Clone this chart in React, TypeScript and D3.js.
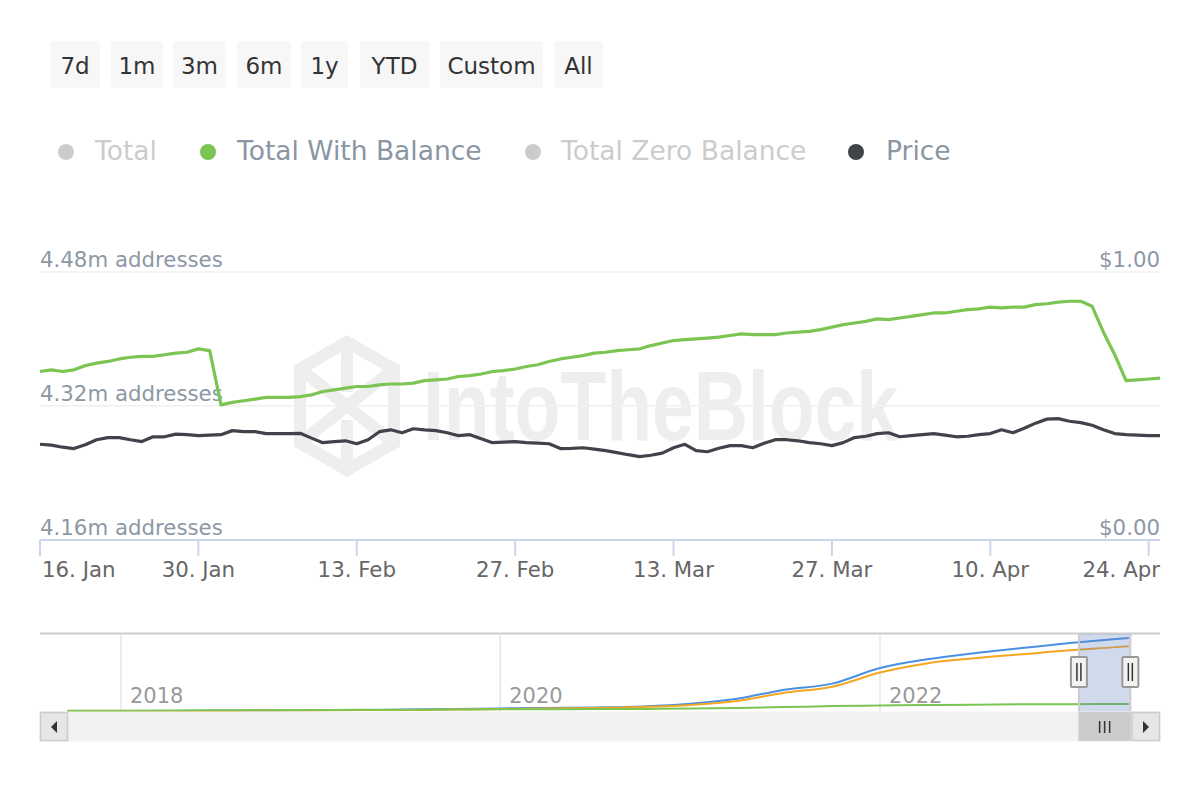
import React from "react";
import * as d3 from "d3";

// daily points, 16 Jan 2023 .. 25 Apr 2023
const START = "2023-01-16";

// Total With Balance, thousands of addresses
const withBalanceK = [
  4361, 4363, 4361, 4363, 4368, 4371, 4373, 4376, 4378, 4379,
  4379, 4381, 4383, 4384, 4388, 4386, 4321, 4324, 4326, 4328,
  4330, 4330, 4330, 4331, 4333, 4337, 4339, 4341, 4343, 4343,
  4345, 4346, 4346, 4347, 4350, 4351, 4352, 4355, 4356, 4358,
  4361, 4362, 4364, 4367, 4369, 4373, 4376, 4378, 4380, 4383,
  4384, 4386, 4387, 4388, 4392, 4395, 4398, 4399, 4400, 4401,
  4402, 4404, 4406, 4405, 4405, 4405, 4407, 4408, 4409, 4411,
  4414, 4417, 4419, 4421, 4424, 4423, 4425, 4427, 4429, 4431,
  4431, 4433, 4435, 4436, 4438, 4437, 4438, 4438, 4441, 4442,
  4444, 4445, 4445, 4439, 4408, 4381, 4350, 4351, 4352, 4353,
];

// Price, USD
const price = [
  0.356, 0.353, 0.345, 0.34, 0.354, 0.373, 0.381, 0.381, 0.373, 0.366,
  0.384, 0.384, 0.394, 0.392, 0.388, 0.39, 0.392, 0.407, 0.403, 0.403,
  0.396, 0.396, 0.396, 0.397, 0.379, 0.362, 0.366, 0.369, 0.358, 0.373,
  0.403, 0.41, 0.399, 0.414, 0.41, 0.407, 0.399, 0.388, 0.392, 0.377,
  0.362, 0.364, 0.366, 0.362, 0.36, 0.358, 0.34, 0.341, 0.343, 0.338,
  0.332, 0.325, 0.317, 0.31, 0.315, 0.323, 0.343, 0.356, 0.332, 0.328,
  0.341, 0.351, 0.351, 0.343, 0.36, 0.373, 0.373, 0.369, 0.362, 0.358,
  0.351, 0.362, 0.381, 0.386, 0.396, 0.399, 0.384, 0.388, 0.392, 0.396,
  0.39, 0.384, 0.386, 0.392, 0.396, 0.41, 0.399, 0.416, 0.435, 0.45,
  0.452, 0.442, 0.437, 0.427, 0.41, 0.396, 0.392, 0.39, 0.388, 0.388,
];

const leftTicksK = [4160, 4320, 4480];
const rightTicks = [0, 1];
const xTickDates = [
  "2023-01-16", "2023-01-30", "2023-02-13", "2023-02-27",
  "2023-03-13", "2023-03-27", "2023-04-10", "2023-04-24",
];

// navigator (full history), millions of addresses
const navDates = [
  "2017-09-20", "2018-01-01", "2018-04-01", "2018-07-01", "2018-10-01",
  "2019-01-01", "2019-04-01", "2019-07-01", "2019-10-01", "2020-01-01",
  "2020-04-01", "2020-07-01", "2020-10-01", "2021-01-01", "2021-04-01",
  "2021-07-01", "2021-10-01", "2022-01-01", "2022-04-01", "2022-07-01",
  "2022-10-01", "2023-01-01", "2023-04-01", "2023-04-25",
];
const navTotal = [0, 0, 0, 0.3, 0.3, 0.6, 0.6, 0.9, 1.2, 1.6, 1.9, 2.2, 2.8, 4.4, 7.5, 13.1, 16.8, 26.4, 31.7, 35.5, 38.6, 41.7, 44.2, 44.8];
const navZero = [0, 0, 0, 0, 0.3, 0.3, 0.6, 0.6, 0.9, 1.2, 1.6, 1.9, 2.5, 3.7, 6.2, 11.2, 14.9, 23.6, 29.2, 32.3, 34.8, 37.3, 39.2, 39.8];
const navWithBal = [0.1, 0.2, 0.3, 0.4, 0.5, 0.6, 0.7, 0.8, 0.9, 1.0, 1.1, 1.2, 1.3, 1.5, 1.9, 2.4, 3.0, 3.4, 3.7, 3.9, 4.1, 4.2, 4.3, 4.37];
const navYears = ["2018", "2020", "2022"];

const buttons = ["7d", "1m", "3m", "6m", "1y", "YTD", "Custom", "All"];
const buttonX = [[50, 100], [111, 163], [173, 226], [237, 291], [301, 348], [360, 429], [440, 543], [554, 603]];

const legendItems = [
  { name: "Total", color: "#cccccc", text: "#cccccc", cx: 66, tx: 95 },
  { name: "Total With Balance", color: "#7cc553", text: "#8a96a3", cx: 208, tx: 237 },
  { name: "Total Zero Balance", color: "#cccccc", text: "#cccccc", cx: 533, tx: 561 },
  { name: "Price", color: "#40444a", text: "#8a96a3", cx: 856, tx: 886 },
];

const FONT = "'DejaVu Sans', sans-serif";
const parse = d3.timeParse("%Y-%m-%d");
const fmtTick = d3.timeFormat("%d. %b");

export default function App() {
  const start = parse(START) as Date;
  const dates = withBalanceK.map((_, i) => d3.timeDay.offset(start, i));
  const end = dates[dates.length - 1];

  const x = d3.scaleTime().domain([start, end]).range([40, 1160]);
  const yL = d3.scaleLinear().domain([4160, 4480]).range([539.5, 272]);
  const yR = d3.scaleLinear().domain([0, 1]).range([539.5, 272]);

  const greenLine = d3.line<number>().x((_, i) => x(dates[i])).y((d) => yL(d));
  const priceLine = d3.line<number>().x((_, i) => x(dates[i])).y((d) => yR(d));

  const nd = navDates.map((s) => parse(s) as Date);
  const xN = d3.scaleTime().domain([new Date(2018, 0, 1), new Date(2022, 0, 1)]).range([121, 880]);
  const yN = d3.scaleLinear().domain([0, 44.8]).range([711, 638]);
  const navLine = d3.line<number>().x((_, i) => xN(nd[i])).y((d) => yN(d)).curve(d3.curveMonotoneX);

  const m0 = xN(start) + 1.5;
  const m1 = xN(end) + 1.5;
  const ticks = xTickDates.map((s) => parse(s) as Date);

  return (
    <svg width={1200} height={800} style={{ position: "absolute", left: 0, top: 0, background: "#fff" }} fontFamily={FONT}>
      {/* range selector */}
      {buttons.map((b, i) => (
        <g key={b}>
          <rect x={buttonX[i][0]} y={41} width={buttonX[i][1] - buttonX[i][0]} height={47} rx={3} fill="#f7f7f7" />
          <text x={(buttonX[i][0] + buttonX[i][1]) / 2} y={74} textAnchor="middle" fontSize={23} fill="#333">{b}</text>
        </g>
      ))}

      {/* legend */}
      {legendItems.map((l) => (
        <g key={l.name}>
          <circle cx={l.cx} cy={152} r={8} fill={l.color} />
          <text x={l.tx} y={160} fontSize={26.5} fill={l.text}>{l.name}</text>
        </g>
      ))}

      {/* watermark */}
      <g fill="none" stroke="#eeeeee" strokeWidth={12} strokeLinejoin="miter">
        <path d="M347,342 L394,369 L394,443 L347,470 L300,443 L300,369 Z" />
        <path d="M347,342 L347,392 M300,369 L394,443 M394,369 L300,443 M347,470 L347,420" />
      </g>
      <text x={423} y={440} fontFamily="'Liberation Sans', Arial, sans-serif" fontWeight="bold" fontSize={98}
        textLength={475} lengthAdjust="spacingAndGlyphs" fill="#eeeeee">IntoTheBlock</text>

      {/* grid */}
      {leftTicksK.slice(1).map((t) => (
        <line key={t} x1={40} x2={1160} y1={yL(t)} y2={yL(t)} stroke="#f0f0f0" strokeWidth={1.5} />
      ))}
      {leftTicksK.map((t) => (
        <text key={t} x={40} y={yL(t) - 5} fontSize={21.3} fill="#8c98a5">{(t / 1000).toFixed(2)}m addresses</text>
      ))}
      {rightTicks.map((t) => (
        <text key={t} x={1160} y={yR(t) - 5} fontSize={21.3} textAnchor="end" fill="#8c98a5">${t.toFixed(2)}</text>
      ))}

      {/* x axis */}
      <line x1={40} x2={1160} y1={540} y2={540} stroke="#ccd6eb" strokeWidth={2} />
      {ticks.map((t, i) => {
        const tx = x(t);
        const anchor = i === 0 ? "start" : i === ticks.length - 1 ? "end" : "middle";
        const lx = i === 0 ? 42 : i === ticks.length - 1 ? 1160 : tx;
        return (
          <g key={i}>
            <line x1={tx} x2={tx} y1={540} y2={556} stroke="#ccd6eb" strokeWidth={2} />
            <text x={lx} y={577} fontSize={21.3} textAnchor={anchor} fill="#666">{fmtTick(t)}</text>
          </g>
        );
      })}

      {/* series */}
      <path d={priceLine(price) || ""} fill="none" stroke="#40444a" strokeWidth={3.2} strokeLinejoin="round" />
      <path d={greenLine(withBalanceK) || ""} fill="none" stroke="#7cc553" strokeWidth={3.2} strokeLinejoin="round" />

      {/* navigator */}
      <line x1={40} x2={1160} y1={633.5} y2={633.5} stroke="#cccccc" strokeWidth={2} />
      {navYears.map((yr) => {
        const gx = xN(new Date(+yr, 0, 1));
        return (
          <g key={yr}>
            <line x1={gx} x2={gx} y1={634} y2={712} stroke="#e6e6e6" strokeWidth={1.5} />
            <text x={gx + 9} y={703} fontSize={21} fill="#999">{yr}</text>
          </g>
        );
      })}
      <path d={navLine(navTotal) || ""} fill="none" stroke="#4a90e2" strokeWidth={2} />
      <path d={navLine(navZero) || ""} fill="none" stroke="#f5a623" strokeWidth={2} />
      <path d={navLine(navWithBal) || ""} fill="none" stroke="#7cc553" strokeWidth={2} />
      <rect x={m0} y={634} width={m1 - m0} height={78} fill="rgba(102,133,194,0.3)" />
      <line x1={m0} x2={m0} y1={634} y2={712} stroke="#cccccc" strokeWidth={2} />
      <line x1={m1} x2={m1} y1={634} y2={712} stroke="#cccccc" strokeWidth={2} />
      {[m0, m1].map((hx, i) => (
        <g key={i}>
          <rect x={hx - 8} y={657} width={16} height={30} rx={1} fill="#f2f2f2" stroke="#999" strokeWidth={2} />
          <line x1={hx - 2} x2={hx - 2} y1={663} y2={681} stroke="#333" strokeWidth={1.5} />
          <line x1={hx + 2} x2={hx + 2} y1={663} y2={681} stroke="#333" strokeWidth={1.5} />
        </g>
      ))}

      {/* scrollbar */}
      <rect x={40} y={712} width={1120} height={29} fill="#f2f2f2" stroke="#f2f2f2" />
      <rect x={40.5} y={712.5} width={27} height={28} fill="#e6e6e6" stroke="#cccccc" strokeWidth={1.5} />
      <path d="M57,721 L51,727 L57,733 Z" fill="#333" />
      <rect x={m0} y={712.5} width={m1 - m0} height={28} fill="#cccccc" stroke="#cccccc" />
      {[-5, 0, 5].map((o) => (
        <line key={o} x1={(m0 + m1) / 2 + o} x2={(m0 + m1) / 2 + o} y1={721} y2={733} stroke="#333" strokeWidth={1.5} />
      ))}
      <rect x={1132} y={712.5} width={27.5} height={28} fill="#e6e6e6" stroke="#cccccc" strokeWidth={1.5} />
      <path d="M1143,721 L1149,727 L1143,733 Z" fill="#333" />
    </svg>
  );
}
